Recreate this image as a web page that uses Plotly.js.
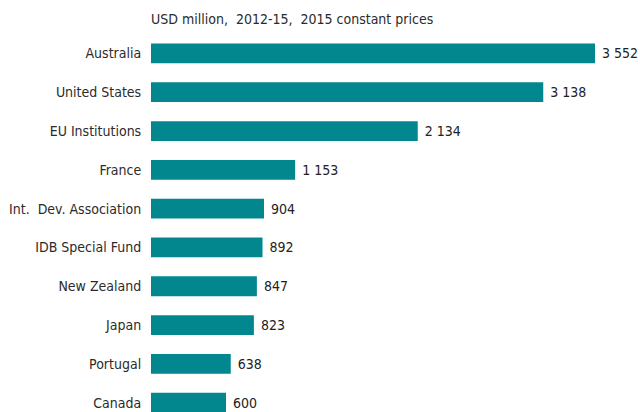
<!DOCTYPE html>
<html><head><meta charset="utf-8">
<script src="https://cdn.plot.ly/plotly-3.0.1.min.js"></script>
<style>html,body{margin:0;padding:0;background:#fff}#chart{width:640px;height:412px}</style>
</head><body><div id="chart"></div>
<script>
const categories = ["Australia","United States","EU Institutions","France","Int.  Dev. Association","IDB Special Fund","New Zealand","Japan","Portugal","Canada"];
const values = [3552,3138,2134,1153,904,892,847,823,638,600];
const titleText = "USD million,  2012-15,  2015 constant prices";
const FONT = '"DejaVu Sans Condensed", "Liberation Sans Narrow", sans-serif';

Plotly.newPlot('chart', [{
  type: 'bar', orientation: 'h',
  y: categories, x: values,
  marker: {color: '#02878F'},
  texttemplate: ' %{x:,}', textposition: 'outside', cliponaxis: false, constraintext: 'none',
  textfont: {family: FONT, size: 14, color: '#222222'},
  hoverinfo: 'none'
}], {
  width: 640, height: 412,
  margin: {l: 151, r: 0, t: 34, b: 0, pad: 0},
  separators: '. ',
  paper_bgcolor: '#fff', plot_bgcolor: '#fff',
  bargap: 0.49,
  showlegend: false,
  font: {family: FONT, size: 14, color: '#2b2b2b'},
  title: {text: titleText, x: 151/640, xanchor: 'left', xref: 'container', y: 1 - 19/412, yanchor: 'middle', yref: 'container',
          font: {family: FONT, size: 14, color: '#2b2b2b'}},
  xaxis: {range: [0, 3912], visible: false, fixedrange: true},
  yaxis: {type: 'category', autorange: false, range: [9.24, -0.5], showgrid: false, zeroline: false, showline: false,
          ticks: 'outside', ticklen: 6, tickcolor: 'rgba(0,0,0,0)', tickfont: {family: FONT, size: 14, color: '#2b2b2b'}}
}, {staticPlot: true});
</script></body></html>
